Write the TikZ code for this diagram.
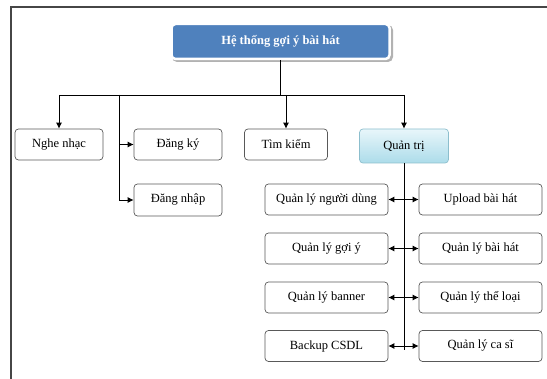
\documentclass[tikz,border=0pt]{standalone}
\usepackage{fontspec}
\setmainfont{Liberation Serif}
\usetikzlibrary{arrows.meta}
\definecolor{titleblue}{RGB}{79,129,189}
\definecolor{framegray}{RGB}{70,70,70}
\definecolor{qtop}{RGB}{232,246,250}
\definecolor{qbot}{RGB}{172,220,234}
\definecolor{qedge}{RGB}{140,190,205}
\begin{document}
\begin{tikzpicture}[x=1pt,y=-1pt,
  txt/.style={font=\fontsize{12.5}{14}\selectfont},
  box/.style={txt, draw=black!65, line width=0.7pt, rounded corners=3.5pt,
    fill=white, inner sep=0pt, minimum height=31pt},
  wide/.style={box, minimum width=123pt},
  link/.style={line width=0.8pt, black},
  tip/.style={link, -{Latex[length=6pt,width=6pt]}},
  both/.style={link, {Latex[length=6pt,width=6pt]}-{Latex[length=6pt,width=6pt]}}
]
\useasboundingbox (0,0) rectangle (547,379);

% page frame (top and left edges)
\draw[framegray, line width=2pt] (11,379) -- (11,7) -- (547,7);

% title box with soft shadow
\fill[black!30, rounded corners=5pt] (172,25) rectangle (393,62);
\node[txt, font=\fontsize{12.5}{14}\bfseries\selectfont, text=white,
  fill=titleblue, draw=white, line width=2.5pt, rounded corners=4pt,
  minimum width=218pt, minimum height=35pt, inner sep=0pt] (title) at (280.5,41.5)
  {Hệ thống gợi ý bài hát};

% first level
\node[box, minimum width=88pt] (nghe) at (59,144.5) {Nghe nhạc};
\node[box, minimum width=88pt] (dangky) at (178,144.5) {Đăng ký};
\node[box, minimum width=88pt, minimum height=32pt] (dangnhap) at (178,200) {Đăng nhập};
\node[box, minimum width=83pt] (tim) at (286,144.5) {Tìm kiếm};
\node[txt, draw=qedge, line width=0.7pt, rounded corners=3.5pt,
  top color=qtop, bottom color=qbot, inner sep=0pt,
  minimum width=89pt, minimum height=34pt] (qt) at (404,146) {Quản trị};

% admin functions
\node[wide] (l1) at (326.5,199.5) {Quản lý người dùng};
\node[wide] (l2) at (326.5,248.5) {Quản lý gợi ý};
\node[wide] (l3) at (326.5,297.5) {Quản lý banner};
\node[wide] (l4) at (326.5,346)   {Backup CSDL};
\node[wide] (r1) at (480.5,199.5) {Upload bài hát};
\node[wide] (r2) at (480.5,248.5) {Quản lý bài hát};
\node[wide] (r3) at (480.5,297.5) {Quản lý thể loại};
\node[wide] (r4) at (480.5,346)   {Quản lý ca sĩ};

% junction points
\coordinate (jT) at (280.5,95);
\coordinate (jL) at (59,95);
\coordinate (jR) at (404,95);
\coordinate (jS) at (286,95);
\coordinate (jD) at (119,95);
\coordinate (qEnd) at (404,350);

% connectors
\draw[link] (title) -- (jT);
\draw[link] (jL) -- (jR);
\draw[tip] (jL) -- (nghe);
\draw[tip] (jS) -- (tim);
\draw[tip] (jR) -- (qt);
\draw[tip] (jD) |- (dangnhap);
\draw[tip] (jD) |- (dangky);
\draw[link] (qt) -- (qEnd);
\draw[both] (l1) -- (r1);
\draw[both] (l2) -- (r2);
\draw[both] (l3) -- (r3);
\draw[both] (l4) -- (r4);
\end{tikzpicture}
\end{document}
